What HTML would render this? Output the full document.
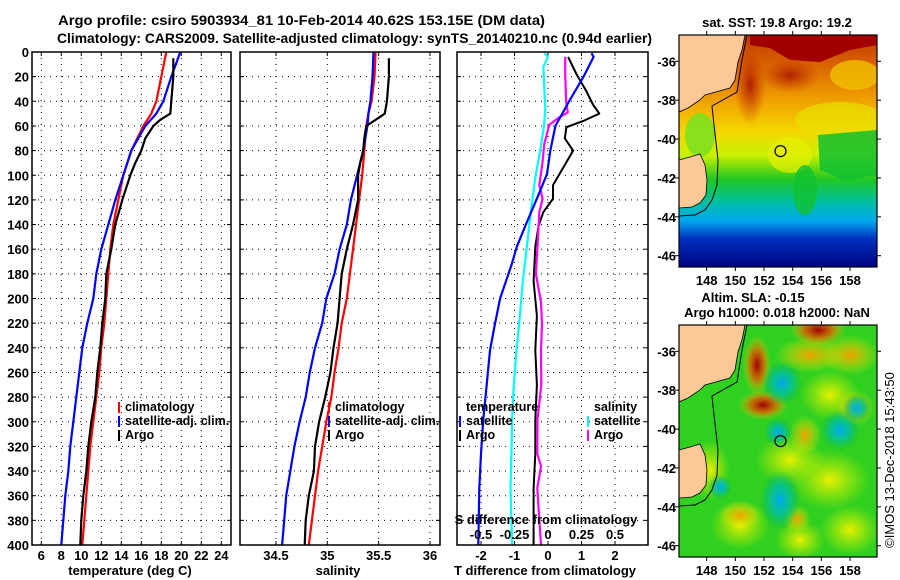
<!DOCTYPE html>
<html><head><meta charset="utf-8"><style>
html,body{margin:0;padding:0;background:#fff;}
svg{display:block;font-family:"Liberation Sans",sans-serif;font-weight:bold;}
</style></head><body>
<svg id="chart" width="900" height="580" viewBox="0 0 900 580" xmlns="http://www.w3.org/2000/svg">
<defs>
<linearGradient id="sstGrad" x1="0" y1="0" x2="0" y2="1">
<stop offset="0" stop-color="#c03a00"/><stop offset="0.12" stop-color="#d86000"/>
<stop offset="0.28" stop-color="#f0a000"/><stop offset="0.42" stop-color="#f4d800"/>
<stop offset="0.52" stop-color="#c8f000"/><stop offset="0.62" stop-color="#20c820"/>
<stop offset="0.72" stop-color="#00c0a0"/><stop offset="0.8" stop-color="#00a8f0"/>
<stop offset="0.88" stop-color="#0030c0"/><stop offset="1" stop-color="#000080"/>
</linearGradient>
<radialGradient id="gRed"><stop offset="0" stop-color="#a00000"/><stop offset="0.5" stop-color="#e06000" stop-opacity="0.8"/><stop offset="1" stop-color="#f0d000" stop-opacity="0"/></radialGradient>
<radialGradient id="gOr"><stop offset="0" stop-color="#f0a000"/><stop offset="1" stop-color="#e8f000" stop-opacity="0"/></radialGradient>
<radialGradient id="gYel"><stop offset="0" stop-color="#e8f000"/><stop offset="1" stop-color="#c0f000" stop-opacity="0"/></radialGradient>
<radialGradient id="gCy"><stop offset="0" stop-color="#00a8f0"/><stop offset="0.5" stop-color="#00c0a0" stop-opacity="0.8"/><stop offset="1" stop-color="#00b060" stop-opacity="0"/></radialGradient>
<radialGradient id="gDr"><stop offset="0" stop-color="#b02000"/><stop offset="1" stop-color="#c84000" stop-opacity="0"/></radialGradient>
<clipPath id="clipMap1"><rect x="679" y="35" width="198" height="232"/></clipPath>
<clipPath id="clipMap2"><rect x="679" y="325" width="198" height="232"/></clipPath>
</defs>
<text x="58" y="25" font-size="14" textLength="487" lengthAdjust="spacingAndGlyphs">Argo profile: csiro 5903934_81 10-Feb-2014 40.62S 153.15E (DM data)</text>
<text x="57" y="43" font-size="14" textLength="595" lengthAdjust="spacingAndGlyphs">Climatology: CARS2009. Satellite-adjusted climatology: synTS_20140210.nc (0.94d earlier)</text>
<g id="plots"></g>
<g id="maps"></g>
</svg>
<script>
// ---- data ----
const climDepth = [0,20,40,50,60,80,100,120,140,160,180,200,220,240,260,280,300,320,340,360,380,400];
const tempClim = [18.5,18.0,17.5,17.0,16.2,15.0,14.2,13.7,13.2,12.9,12.7,12.5,12.3,12.0,11.8,11.5,11.2,10.9,10.7,10.5,10.3,10.1];
const tempSat = [19.9,19.0,18.2,17.5,16.4,15.0,14.2,13.4,12.7,12.0,11.5,11.2,10.6,10.1,9.8,9.5,9.2,8.9,8.7,8.4,8.2,8.0];
const salClim = [35.47,35.46,35.43,35.40,35.38,35.36,35.34,35.31,35.28,35.25,35.22,35.19,35.14,35.11,35.07,35.04,34.99,34.95,34.91,34.88,34.85,34.82];
const salSat = [35.45,35.44,35.42,35.40,35.39,35.35,35.29,35.23,35.19,35.12,35.07,34.99,34.95,34.88,34.83,34.79,34.73,34.68,34.64,34.60,34.58,34.56];
const argoDepth = [5,20,40,50,55,60,70,80,90,100,120,140,160,180,200,220,240,260,280,300,320,340,360,380,400];
const tempArgo = [19.2,19.2,19.0,18.9,17.9,17.2,16.4,16.0,15.4,14.9,14.1,13.4,13.0,12.5,12.4,12.1,11.9,11.6,11.4,11.0,10.7,10.5,10.2,10.0,9.9];
const salArgo = [35.60,35.60,35.58,35.56,35.47,35.38,35.36,35.35,35.32,35.30,35.30,35.25,35.19,35.14,35.12,35.10,35.06,35.03,34.98,34.92,34.88,34.87,34.82,34.79,34.78];
// difference panel series
const tSatDiffDepth = [1,4,20,41,60,80,99,119,138,158,172,200,220,242,270,298,326,354,400];
const tSatDiff = [1.30,1.36,1.06,0.61,0.22,0.07,-0.03,-0.33,-0.63,-0.93,-1.08,-1.43,-1.58,-1.73,-1.83,-1.93,-2.0,-2.05,-2.08];
const sSatDiffDepth = [1,4,12,46,60,80,102,130,158,186,214,242,270,298,326,354,400];
const sSatDiff = [-0.025,0.0,-0.035,-0.02,-0.03,-0.058,-0.095,-0.128,-0.158,-0.188,-0.21,-0.235,-0.255,-0.268,-0.273,-0.28,-0.268];
const tArgoDiffDepth = [4,18,32,43,50,56,61,70,80,94,108,119,130,141,158,186,214,242,270,298,326,354,400];
const tArgoDiff = [0.60,0.85,1.15,1.35,1.53,1.05,0.55,0.50,0.75,0.45,0.15,0.15,-0.14,-0.28,-0.38,-0.43,-0.33,-0.38,-0.33,-0.38,-0.38,-0.43,-0.43];
const sArgoDiffDepth = [4,18,40,49,53,59,75,89,108,119,130,158,180,203,220,242,270,298,326,336,354,400];
const sArgoDiff = [0.128,0.128,0.135,0.148,0.085,0.01,-0.028,-0.04,-0.065,-0.04,-0.065,-0.078,-0.09,-0.052,-0.045,-0.052,-0.05,-0.078,-0.08,-0.052,-0.08,-0.052];
const depthTicks = [0,20,40,60,80,100,120,140,160,180,200,220,240,260,280,300,320,340,360,380,400];
const tempTicks = [6,8,10,12,14,16,18,20,22,24];
const salTicks = [34.5,35,35.5,36];
const tdiffTicks = [-2,-1,0,1,2];
const sdiffTickLabels = ["-0.5","-0.25","0","0.25","0.5"];
const lonTicks = [148,150,152,154,156,158];
const latTicks = [-36,-38,-40,-42,-44,-46];
const argoLon = 153.15, argoLat = -40.62;

const NS = "http://www.w3.org/2000/svg";
function mk(tag, attrs, parent, txt){
  const e = document.createElementNS(NS, tag);
  for (const k in attrs) e.setAttribute(k, attrs[k]);
  if (txt !== undefined) e.textContent = txt;
  parent.appendChild(e); return e;
}
const plots = document.getElementById('plots');
const maps = document.getElementById('maps');

const yTop = 52, yBot = 545;
const yD = d => yTop + d*(yBot-yTop)/400;
const xT = t => 41.3 + (t-6)*10;
const xS = s => 327.3 + (s-35)*102.7;
const xTd = v => 548 + v*33.5;
const xSd = v => 548 + v*4*33.5;

function panel(name){
  const g = mk('g', {}, plots);
  
  
  return g;
}
function grid(g, x0, x1, xs){
  depthTicks.forEach(d => {
    if (d>0 && d<400) mk('line',{x1:x0,x2:x1,y1:yD(d),y2:yD(d),stroke:'#000','stroke-width':1,'stroke-dasharray':'1 5'},g);
    mk('line',{x1:x0,x2:x0+4,y1:yD(d),y2:yD(d),stroke:'#000'},g);
    mk('line',{x1:x1-4,x2:x1,y1:yD(d),y2:yD(d),stroke:'#000'},g);
  });
  xs.forEach(x => {
    mk('line',{x1:x,x2:x,y1:yTop,y2:yBot,stroke:'#000','stroke-width':1,'stroke-dasharray':'1 5'},g);
    mk('line',{x1:x,x2:x,y1:yTop,y2:yTop+4,stroke:'#000'},g);
    mk('line',{x1:x,x2:x,y1:yBot-4,y2:yBot,stroke:'#000'},g);
  });
}
function frame(g, x0, x1){
  mk('rect',{x:x0,y:yTop,width:x1-x0,height:yBot-yTop,fill:'none',stroke:'#000','stroke-width':1.5},g);
}
function line(g, name, xs, ys, color, w){
  const pts = xs.map((x,i)=>x.toFixed(1)+','+ys[i].toFixed(1)).join(' ');
  const p = mk('polyline',{points:pts,fill:'none',stroke:color,'stroke-width':w||2,'stroke-linejoin':'round'},g);
  
  
}
function legend(g, x, y, items){
  items.forEach((it,i)=>{
    if (it.color) mk('line',{x1:x,x2:x,y1:y+i*14-9,y2:y+i*14+2,stroke:it.color,'stroke-width':2},g);
    const t = mk('text',{x:x+6,y:y+i*14,'font-size':12.5},g,it.label);
    
    
  });
}

// Panel 1: temperature
const g1 = panel('temperature-panel');
grid(g1, 32, 231, tempTicks.map(xT));
line(g1,'temp-climatology-line', tempClim.map(xT), climDepth.map(yD), '#ff0000', 2.2);
line(g1,'temp-satellite-line', tempSat.map(xT), climDepth.map(yD), '#0000ff', 2.2);
line(g1,'temp-argo-line', tempArgo.map(xT), argoDepth.map(yD), '#000000', 2.2);
frame(g1, 32, 231);
depthTicks.forEach(d=>{ const t=mk('text',{x:29,y:yD(d)+5,'font-size':13,'text-anchor':'end'},g1,String(d));
    });
tempTicks.forEach(v=>{ const t=mk('text',{x:xT(v),y:560,'font-size':13,'text-anchor':'middle'},g1,String(v));
    });
{ const t=mk('text',{x:130,y:575,'font-size':13,'text-anchor':'middle'},g1,'temperature (deg C)');
    }
legend(g1, 119, 411, [{color:'#ff0000',label:'climatology'},{color:'#0000ff',label:'satellite-adj. clim.'},{color:'#000',label:'Argo'}]);

// Panel 2: salinity
const g2 = panel('salinity-panel');
grid(g2, 240, 440, salTicks.map(xS));
line(g2,'sal-climatology-line', salClim.map(xS), climDepth.map(yD), '#ff0000', 2.2);
line(g2,'sal-satellite-line', salSat.map(xS), climDepth.map(yD), '#0000ff', 2.2);
line(g2,'sal-argo-line', salArgo.map(xS), argoDepth.map(yD), '#000000', 2.2);
frame(g2, 240, 440);
salTicks.forEach(v=>{ const t=mk('text',{x:xS(v),y:560,'font-size':13,'text-anchor':'middle'},g2,String(v));
    });
{ const t=mk('text',{x:338,y:575,'font-size':13,'text-anchor':'middle'},g2,'salinity');
    }
legend(g2, 329, 411, [{color:'#ff0000',label:'climatology'},{color:'#0000ff',label:'satellite-adj. clim.'},{color:'#000',label:'Argo'}]);

// Panel 3: differences
const g3 = panel('difference-panel');
grid(g3, 457, 648, tdiffTicks.map(xTd));
line(g3,'sdiff-satellite-line', sSatDiff.map(xSd), sSatDiffDepth.map(yD), '#00ffff', 2.2);
line(g3,'tdiff-argo-line', tArgoDiff.map(xTd), tArgoDiffDepth.map(yD), '#000000', 2);
line(g3,'sdiff-argo-line', sArgoDiff.map(xSd), sArgoDiffDepth.map(yD), '#ff00ff', 2.2);
line(g3,'tdiff-satellite-line', tSatDiff.map(xTd), tSatDiffDepth.map(yD), '#0000ff', 2.2);
frame(g3, 457, 648);
tdiffTicks.forEach(v=>{ const t=mk('text',{x:xTd(v),y:560,'font-size':13,'text-anchor':'middle'},g3,String(v));
    });
sdiffTickLabels.forEach((s,i)=>{ const t=mk('text',{x:xSd(-0.5+i*0.25),y:539,'font-size':13,'text-anchor':'middle'},g3,s);
    });
{ const t=mk('text',{x:546,y:524,'font-size':13,'text-anchor':'middle'},g3,'S difference from climatology');
    }
{ const t=mk('text',{x:545,y:575,'font-size':13,'text-anchor':'middle'},g3,'T difference from climatology');
    }
legend(g3, 460, 411, [{label:'temperature'},{color:'#0000ff',label:'satellite'},{color:'#000',label:'Argo'}]);
legend(g3, 588, 411, [{label:'salinity'},{color:'#00ffff',label:'satellite'},{color:'#ff00ff',label:'Argo'}]);

// ---- maps ----
const mx0=679, mx1=877;
const xLon = lon => 706.7 + (lon-148)*14.33;
function mapAxes(g, yTopM){
  const yLat = lat => yTopM + 26.3 + (-36-lat)*19.44;
  const yB = yTopM+232;
  mk('rect',{x:mx0,y:yTopM,width:mx1-mx0,height:232,fill:'none',stroke:'#000','stroke-width':1.2},g);
  lonTicks.forEach(l=>{
    mk('line',{x1:xLon(l),x2:xLon(l),y1:yTopM-4,y2:yTopM,stroke:'#000'},g);
    mk('line',{x1:xLon(l),x2:xLon(l),y1:yB,y2:yB+4,stroke:'#000'},g);
    const t=mk('text',{x:xLon(l),y:yB+18,'font-size':13,'text-anchor':'middle'},g,String(l));
     
  });
  latTicks.forEach(l=>{
    mk('line',{x1:mx0-4,x2:mx0,y1:yLat(l),y2:yLat(l),stroke:'#000'},g);
    mk('line',{x1:mx1,x2:mx1+4,y1:yLat(l),y2:yLat(l),stroke:'#000'},g);
    const t=mk('text',{x:676,y:yLat(l)+5,'font-size':13,'text-anchor':'end'},g,String(l));
     
  });
  const c = mk('circle',{cx:xLon(argoLon),cy:yLat(argoLat),r:5.5,fill:'none',stroke:'#000','stroke-width':1.2},g);
  
  
}
function land(g, dy){
  const main = [[679,35],[745,35],[742,50],[738,62],[735,80],[730,88],[705,95],[700,100],[688,108],[679,112]];
  const tas = [[679,160],[690,157],[700,154],[705,165],[707,180],[706,195],[700,203],[692,207],[679,208]];
  mk('polygon',{points:main.map(p=>p[0]+','+(p[1]+dy)).join(' '),fill:'#fbc896',stroke:'#000','stroke-width':0.8},g);
  mk('polygon',{points:tas.map(p=>p[0]+','+(p[1]+dy)).join(' '),fill:'#fbc896',stroke:'#000','stroke-width':0.8},g);
  const shelf=[[747,35],[742,60],[737,92],[712,106],[714,125],[718,160],[717,185],[712,200],[705,210],[695,215],[679,216]];
  mk('polyline',{points:shelf.map(p=>p[0]+','+(p[1]+dy)).join(' '),fill:'none',stroke:'#000','stroke-width':1},g);
}
// SST map
const m1 = mk('g',{'clip-path':'url(#clipMap1)'},maps);


mk('rect',{x:mx0,y:35,width:198,height:232,fill:'url(#sstGrad)'},m1);
mk('path',{d:'M750 35 L877 35 L877 45 L850 50 L820 62 L790 60 L770 48 L750 45 Z',fill:'#a00000'},m1);
mk('ellipse',{cx:750,cy:85,rx:16,ry:40,fill:'url(#gDr)'},m1);
mk('ellipse',{cx:790,cy:75,rx:30,ry:18,fill:'url(#gDr)'},m1);
mk('ellipse',{cx:855,cy:75,rx:25,ry:15,fill:'#f0c000',opacity:0.8},m1);
mk('ellipse',{cx:840,cy:120,rx:45,ry:18,fill:'#e8e000',opacity:0.7},m1);
mk('path',{d:'M818 135 L877 130 L877 175 L845 180 L820 170 Z',fill:'#10c030',opacity:0.85},m1);
mk('ellipse',{cx:790,cy:155,rx:22,ry:18,fill:'#e8f000',opacity:0.7},m1);
mk('ellipse',{cx:700,cy:135,rx:15,ry:22,fill:'#80e020',opacity:0.9},m1);
mk('ellipse',{cx:805,cy:190,rx:12,ry:25,fill:'#10c030',opacity:0.8},m1);
land(m1, 0);
const a1 = mk('g',{},maps); mapAxes(a1, 35);
{ const t=mk('text',{x:777,y:27,'font-size':13,'text-anchor':'middle'},maps,'sat. SST: 19.8 Argo: 19.2');
    }
// SLA map
const m2 = mk('g',{'clip-path':'url(#clipMap2)'},maps);


mk('rect',{x:mx0,y:325,width:198,height:232,fill:'#30d020'},m2);
[[830,480,40,30],[740,525,30,25],[850,530,30,25],[790,460,35,25],[830,395,30,25],[710,470,20,30],[800,540,25,20]].forEach(b=>mk('ellipse',{cx:b[0],cy:b[1],rx:b[2],ry:b[3],fill:'url(#gYel)'},m2));
[[850,355,30,20],[810,355,35,18],[740,515,22,14],[855,408,20,18],[805,435,16,20],[797,519,14,14]].forEach(b=>mk('ellipse',{cx:b[0],cy:b[1],rx:b[2],ry:b[3],fill:'url(#gOr)'},m2));
[[818,330,28,16],[757,365,14,30],[763,405,25,15]].forEach(b=>mk('ellipse',{cx:b[0],cy:b[1],rx:b[2],ry:b[3],fill:'url(#gRed)'},m2));
[[782,383,20,22],[857,408,14,14],[778,432,14,14],[720,487,12,12],[780,500,20,30],[840,430,20,20]].forEach(b=>mk('ellipse',{cx:b[0],cy:b[1],rx:b[2],ry:b[3],fill:'url(#gCy)'},m2));
land(m2, 290);
const a2 = mk('g',{},maps); mapAxes(a2, 325);
{ const t=mk('text',{x:753,y:302,'font-size':13,'text-anchor':'middle'},maps,'Altim. SLA: -0.15');
    }
{ const t=mk('text',{x:777,y:317,'font-size':13,'text-anchor':'middle'},maps,'Argo h1000: 0.018 h2000: NaN');
    }
{ const t=mk('text',{x:0,y:0,'font-size':13,'font-weight':'normal','text-anchor':'middle',transform:'translate(894,460) rotate(-90)'},maps,'©IMOS 13-Dec-2018 15:43:50');
    }
</script>
</body></html>
